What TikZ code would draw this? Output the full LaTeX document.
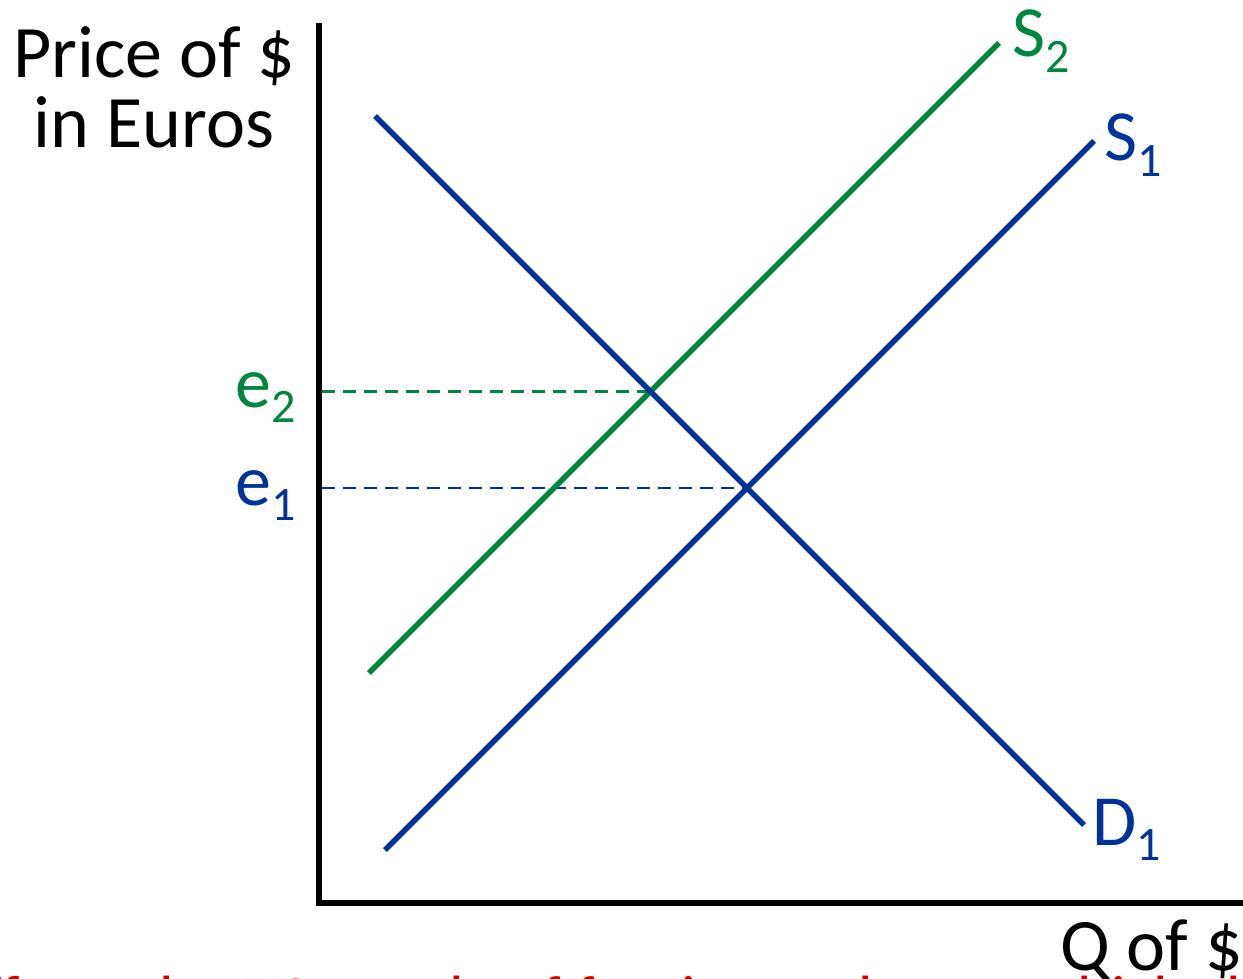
\documentclass[tikz,border=0pt]{standalone}
\usepackage{fontspec}
\setmainfont{Carlito}
\definecolor{cblue}{RGB}{0,51,153}
\definecolor{cgreen}{RGB}{0,134,62}
\definecolor{cred}{RGB}{204,0,0}
\tikzset{
  axisline/.style={line width=6pt,black},
  curveblue/.style={line width=5.5pt,cblue},
  curvegreen/.style={line width=5.5pt,cgreen},
  guide/.style={line width=2.2pt,dash pattern=on 13pt off 8pt},
  lbl/.style={inner sep=0pt,anchor=base west,font=\fontsize{72}{72}\selectfont},
  axlbl/.style={inner sep=0pt,anchor=base,font=\fontsize{74}{74}\selectfont}
}
\newcommand{\subnum}[1]{\raisebox{-0.21em}{\fontsize{48}{48}\selectfont #1}}
\begin{document}
\begin{tikzpicture}[x=1pt,y=-1pt]
\useasboundingbox (0,0) rectangle (1243,979);
\clip (0,0) rectangle (1243,979);
% axes
\coordinate (top) at (319,23);
\coordinate (origin) at (319,902.5);
\coordinate (right) at (1250,902.5);
\draw[axisline] (top) -- (origin) -- (right);
% curves
\coordinate (d1a) at (375,116);
\coordinate (d1b) at (1084,825);
\coordinate (s1a) at (385,850);
\coordinate (s1b) at (1094,141);
\coordinate (s2a) at (369,673);
\coordinate (s2b) at (999,43);
\coordinate (x1) at (747,488);
\coordinate (x2) at (650.5,391.5);
\coordinate (y1) at (322,488);
\coordinate (y2) at (322,391.5);
\draw[guide,draw=cblue] (y1) -- (x1);
\draw[guide,draw=cgreen] (y2) -- (x2);
\draw[curveblue] (s1a) -- (s1b);
\draw[curvegreen] (s2a) -- (s2b);
\draw[curveblue] (d1a) -- (d1b);
% labels
\node[lbl,text=cgreen] (ls2) at (1012,57) {S\subnum{2}};
\node[lbl,text=cblue] (ls1) at (1104,161) {S\subnum{1}};
\node[lbl,text=cblue] (ld1) at (1092,845) {D\subnum{1}};
\node[lbl,text=cgreen] (le2) at (235,407) {e\subnum{2}};
\node[lbl,text=cblue] (le1) at (235,505) {e\subnum{1}};
\node[axlbl] (ylab1) at (154,78) {Price of \$};
\node[axlbl] (ylab2) at (154,148) {in Euros};
\node[lbl,font=\fontsize{74}{74}\selectfont] (xlab) at (1060,970) {Q of \$};
\node[lbl,text=cred,font=\fontsize{64}{64}\selectfont] (note) at (-18,1020) {ffects the US supply of foreign exchange which shifts};
\end{tikzpicture}
\end{document}
